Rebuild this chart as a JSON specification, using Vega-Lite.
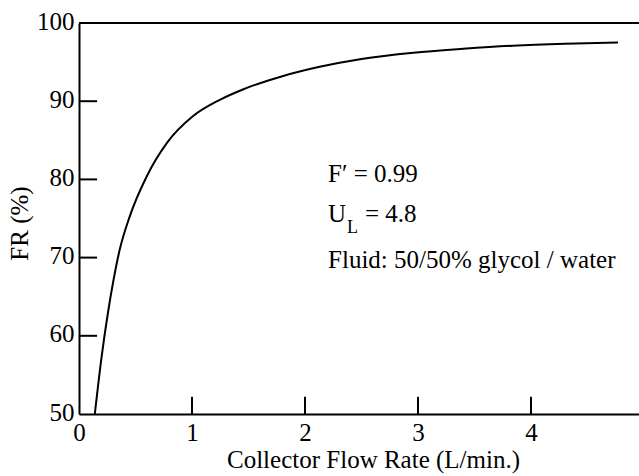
{
  "$schema": "https://vega.github.io/schema/vega-lite/v6.json",
  "width": 560,
  "height": 391,
  "autosize": {"type": "none"},
  "padding": {"left": 79, "top": 23, "right": 0, "bottom": 62},
  "background": "white",
  "config": {
    "view": {"stroke": null},
    "font": "Liberation Serif",
    "axis": {
      "domainColor": "black",
      "domainWidth": 2,
      "ticks": false,
      "labelColor": "black",
      "labelFont": "Liberation Serif",
      "labelFontSize": 25,
      "titleColor": "black",
      "titleFont": "Liberation Serif",
      "titleFontSize": 25,
      "titleFontWeight": "normal",
      "grid": false
    }
  },
  "datasets": {
    "curve": [
      {"flow": 0.14, "fr": 50.0},
      {"flow": 0.20, "fr": 57.3},
      {"flow": 0.26, "fr": 63.3},
      {"flow": 0.30, "fr": 66.7},
      {"flow": 0.36, "fr": 71.0},
      {"flow": 0.45, "fr": 75.3},
      {"flow": 0.60, "fr": 80.4},
      {"flow": 0.78, "fr": 84.7},
      {"flow": 1.01, "fr": 88.1},
      {"flow": 1.25, "fr": 90.2},
      {"flow": 1.45, "fr": 91.5},
      {"flow": 1.8, "fr": 93.2},
      {"flow": 2.13, "fr": 94.4},
      {"flow": 2.5, "fr": 95.4},
      {"flow": 2.96, "fr": 96.2},
      {"flow": 3.4, "fr": 96.7},
      {"flow": 3.84, "fr": 97.1},
      {"flow": 4.3, "fr": 97.35},
      {"flow": 4.77, "fr": 97.5}
    ],
    "notes": [
      {"flow": 2.204, "fr": 79.7, "label": "F′ = 0.99"},
      {"flow": 2.204, "fr": 74.5, "label": "U"},
      {"flow": 2.53, "fr": 74.5, "label": "= 4.8"},
      {"flow": 2.204, "fr": 68.7, "label": "Fluid: 50/50% glycol / water"}
    ],
    "subs": [
      {"flow": 2.372, "fr": 73.2, "label": "L"}
    ],
    "yticks": [{"fr": 60}, {"fr": 70}, {"fr": 80}, {"fr": 90}],
    "xticks": [{"flow": 1}, {"flow": 2}, {"flow": 3}, {"flow": 4}]
  },
  "layer": [
    {
      "data": {"name": "curve"},
      "mark": {"type": "line", "color": "black", "strokeWidth": 2, "interpolate": "monotone", "clip": true},
      "encoding": {
        "x": {
          "field": "flow", "type": "quantitative",
          "scale": {"domain": [0, 4.956], "nice": false, "zero": false},
          "axis": {
            "values": [0, 1, 2, 3, 4, 5],
            "format": "d",
            "title": "Collector Flow Rate (L/min.)",
            "labelPadding": 6,
            "labelFlush": false,
            "labelOverlap": false,
            "titleBaseline": "alphabetic",
            "titleX": 294,
            "titleY": 53,
            "titleAlign": "center"
          }
        },
        "y": {
          "field": "fr", "type": "quantitative",
          "scale": {"domain": [50, 100], "nice": false, "zero": false},
          "axis": {
            "values": [50, 60, 70, 80, 90, 100],
            "format": "d",
            "title": "FR (%)",
            "labelPadding": 5,
            "labelOverlap": false,
            "labelOffset": -2,
            "titleAngle": -90,
            "titleBaseline": "alphabetic",
            "titleAlign": "center",
            "titleX": -52,
            "titleY": 200
          }
        }
      }
    },
    {
      "data": {"values": [{}]},
      "mark": {"type": "rule", "color": "black", "strokeWidth": 2},
      "encoding": {"y": {"datum": 100}}
    },
    {
      "data": {"name": "yticks"},
      "mark": {"type": "rule", "color": "black", "strokeWidth": 2},
      "encoding": {
        "y": {"field": "fr", "type": "quantitative"},
        "x": {"datum": 0},
        "x2": {"datum": 0.16}
      }
    },
    {
      "data": {"name": "xticks"},
      "mark": {"type": "rule", "color": "black", "strokeWidth": 2},
      "encoding": {
        "x": {"field": "flow", "type": "quantitative"},
        "y": {"datum": 50},
        "y2": {"datum": 52.2}
      }
    },
    {
      "data": {"name": "notes"},
      "mark": {"type": "text", "align": "left", "baseline": "alphabetic", "fontSize": 25, "font": "Liberation Serif", "color": "black"},
      "encoding": {
        "x": {"field": "flow", "type": "quantitative"},
        "y": {"field": "fr", "type": "quantitative"},
        "text": {"field": "label"}
      }
    },
    {
      "data": {"name": "subs"},
      "mark": {"type": "text", "align": "left", "baseline": "alphabetic", "fontSize": 18, "font": "Liberation Serif", "color": "black"},
      "encoding": {
        "x": {"field": "flow", "type": "quantitative"},
        "y": {"field": "fr", "type": "quantitative"},
        "text": {"field": "label"}
      }
    }
  ]
}
